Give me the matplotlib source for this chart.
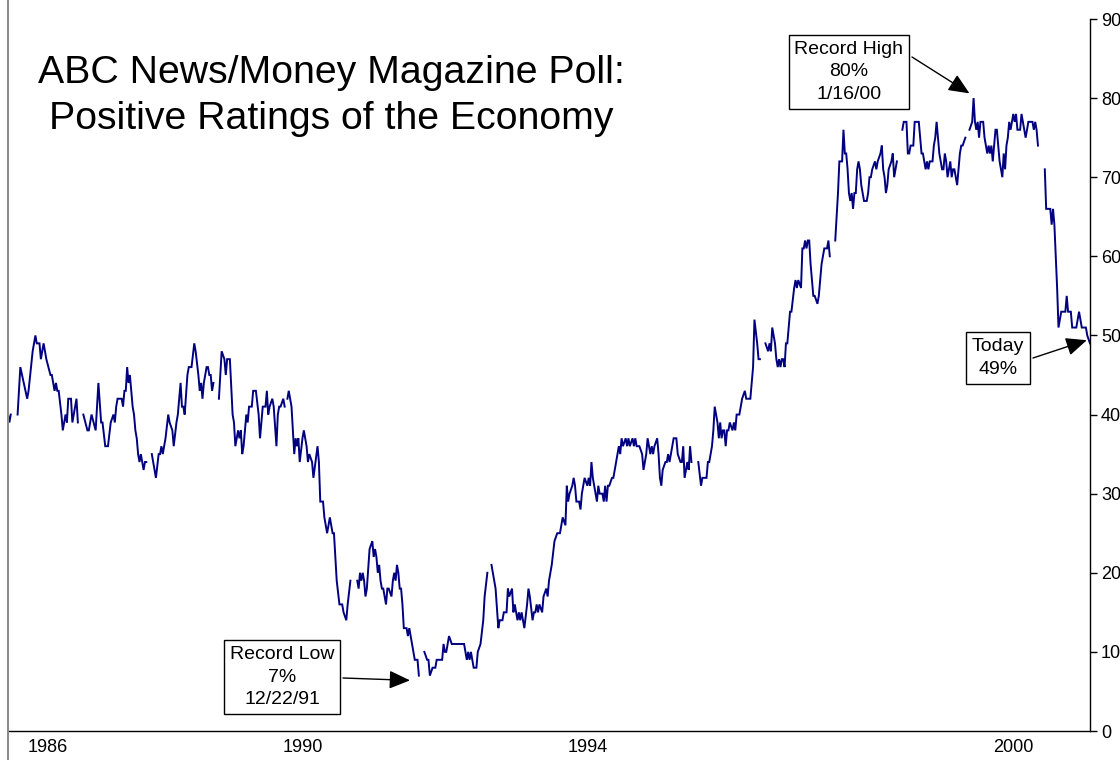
import matplotlib
matplotlib.use("Agg")
import matplotlib.pyplot as plt
import numpy as np

# ---- data: (poll number, positive rating %) ; None = no poll reported ----
polls_1985_87 = [(0,40),(1,39),(2,40),(4,None),(7,40),(9,46),(14,42),(15,43),(18,48),(19,49),(20,50),(21,49),(23,49),(24,47),(25,48),(26,49),(28,47),(31,45),(32,45),(34,43),(35,44),(36,43),(37,43),(39,40),(40,38),(42,40),(43,39),(44,42),(46,42),(47,39),(50,42),(51,39),(53,None),(55,40),(58,38),(59,38),(60,39),(61,40),(64,38),(65,41),(66,44),(68,39),(69,39),(71,36),(73,36),(75,39),(77,40),(78,39),(79,41),(80,42),(83,42),(84,41),(85,43),(86,43),(87,46),(88,44),(89,45),(91,41),(92,40),(93,38),(94,37),(95,35),(96,34),(97,35),(99,33),(100,34),(101,34),(103,None)]
polls_1988_89 = [(105,35),(108,32),(110,35),(111,35),(112,36),(113,35),(115,37),(117,40),(118,39),(120,38),(121,36),(123,39),(124,40),(126,44),(127,41),(128,41),(129,40),(131,45),(132,46),(134,46),(136,49),(137,48),(139,45),(140,43),(141,44),(142,42),(143,44),(145,46),(146,46),(147,45),(148,45),(149,43),(150,44),(152,None),(154,42),(156,48),(158,47),(159,45),(160,47),(162,47),(164,40),(165,39),(166,36),(167,37),(168,38),(169,37),(170,38),(171,35),(172,36),(174,40),(175,39),(176,41),(178,41),(179,43),(181,43),(183,40),(184,37),(186,41),(188,41),(189,43),(190,40),(191,41),(193,42),(194,41),(196,36),(197,40),(198,41),(199,41),(201,42),(202,41),(203,None)]
polls_1990_91 = [(204,42),(205,43),(207,41),(209,35),(210,37),(211,36),(212,37),(213,34),(215,37),(216,38),(218,36),(219,34),(220,35),(222,34),(223,32),(226,36),(227,34),(228,29),(230,29),(231,27),(233,25),(234,26),(235,27),(237,25),(238,25),(239,22),(240,19),(242,16),(244,16),(245,15),(247,14),(248,16),(250,19),(252,None),(255,19),(256,18),(257,20),(258,19),(259,20),(260,19),(261,17),(262,18),(264,23),(266,24),(267,22),(268,23),(269,22),(270,20),(271,21),(272,19),(273,18),(274,18),(275,17),(276,16),(277,18),(278,18),(280,17),(281,19),(282,20),(283,19),(284,21),(285,20),(286,18),(287,18),(288,16),(289,13),(291,13),(292,12),(293,13),(295,11),(296,10),(297,9),(299,9),(300,7),(302,None)]
polls_1992_95 = [(304,10),(306,9),(307,9),(308,7),(310,8),(311,8),(312,8),(313,9),(315,9),(317,9),(318,11),(319,10),(320,10),(322,12),(324,11),(326,11),(329,11),(330,11),(331,11),(333,11),(335,9),(336,10),(337,9),(338,10),(339,9),(340,8),(342,8),(343,10),(345,11),(347,14),(348,17),(350,20),(352,None),(353,21),(356,18),(358,13),(359,14),(361,14),(362,15),(364,15),(365,18),(366,17),(368,18),(369,15),(370,16),(372,14),(373,15),(374,14),(375,15),(376,14),(377,13),(379,16),(380,18),(381,17),(383,14),(384,15),(385,15),(386,16),(387,15),(388,16),(390,15),(391,17),(393,18),(394,17),(395,19),(397,21),(399,24),(401,25),(403,25),(404,26),(405,27),(407,26),(408,31),(409,29),(410,30),(412,31),(413,32),(414,31),(415,29),(417,29),(418,28),(419,30),(420,31),(421,32),(423,31),(424,32),(425,31),(426,34),(427,32),(429,30),(430,29),(431,31),(432,30),(434,30),(435,29),(436,31),(437,29),(438,31),(439,31),(441,32),(442,32),(443,33),(445,35),(446,36),(447,35),(448,37),(449,36),(451,37),(452,36),(453,37),(454,36),(456,37),(457,36),(458,37),(459,36),(460,36),(461,36),(463,35),(464,33),(465,34),(466,35),(467,37),(469,35),(470,36),(471,35),(472,36),(474,37),(475,35),(476,32),(477,31),(478,33),(480,34),(481,34),(482,35),(483,34),(485,36),(486,37),(488,37),(489,35),(491,34),(492,34),(493,36),(494,32),(496,34),(497,33),(498,36),(499,34),(501,None)]
polls_1996_98 = [(504,34),(506,31),(507,32),(510,32),(511,34),(512,34),(514,36),(515,38),(516,41),(518,39),(519,37),(520,39),(521,37),(522,38),(523,38),(524,36),(525,38),(526,38),(527,39),(529,38),(530,39),(531,38),(532,40),(534,40),(535,41),(536,42),(538,43),(539,42),(542,42),(543,44),(544,46),(545,52),(547,49),(548,47),(549,47),(551,None),(553,49),(555,48),(556,49),(557,48),(558,51),(560,49),(561,47),(562,46),(563,47),(564,46),(565,47),(566,47),(567,46),(568,49),(569,49),(571,53),(572,53),(574,56),(575,57),(576,56),(577,57),(579,56),(580,61),(581,61),(582,62),(583,61),(584,62),(585,62),(586,59),(588,55),(589,55),(591,54),(592,55),(593,57),(594,59),(595,60),(596,61),(598,61),(599,62),(600,60),(602,None),(604,62),(606,68),(607,72),(609,72),(610,76),(611,73),(612,73),(613,71),(614,68),(615,67),(616,68),(617,66),(618,68),(619,68),(620,71),(621,72),(622,71),(623,69),(625,67),(627,67),(628,68),(629,70),(630,70),(631,71),(633,72),(634,71),(635,72),(637,73),(638,74),(639,71),(640,70),(641,68),(642,69),(643,71),(645,72),(646,73),(647,70),(648,71),(649,72),(651,None)]
polls_1999_01 = [(653,76),(654,77),(656,77),(657,73),(658,73),(659,74),(661,74),(662,77),(664,77),(665,77),(666,75),(667,73),(668,73),(669,72),(670,71),(671,72),(672,71),(673,72),(675,72),(676,74),(677,75),(678,77),(679,75),(680,73),(682,71),(683,71),(684,73),(685,72),(686,70),(687,71),(688,72),(689,70),(690,71),(691,71),(693,69),(694,71),(695,73),(696,74),(697,74),(699,75),(701,None),(702,76),(704,77),(705,80),(706,77),(707,76),(708,77),(709,75),(710,77),(711,77),(712,77),(713,75),(715,73),(716,74),(717,73),(718,74),(719,72),(721,76),(722,76),(723,74),(724,72),(726,70),(727,73),(728,71),(729,74),(730,75),(731,77),(732,76),(734,78),(735,77),(736,78),(737,76),(739,76),(740,78),(741,77),(742,76),(743,75),(745,77),(747,77),(748,77),(749,76),(750,77),(751,76),(752,74),(754,None),(757,71),(758,66),(760,66),(761,66),(762,64),(763,66),(764,64),(765,60),(766,56),(767,51),(769,53),(770,53),(772,53),(773,55),(774,53),(776,53),(777,51),(779,51),(780,51),(782,53),(783,52),(784,51),(787,51),(788,50),(790,49)]

year_labels = ["1986", "1990", "1994", "2000"]
year_label_polls = [29, 215, 423, 734]
y_ticks = list(range(0, 91, 10))

title = "ABC News/Money Magazine Poll:\nPositive Ratings of the Economy"
high_note = "Record High\n80%\n1/16/00"
low_note = "Record Low\n7%\n12/22/91"
today_note = "Today\n49%"

# ---- build ----
series = polls_1985_87 + polls_1988_89 + polls_1990_91 + polls_1992_95 + polls_1996_98 + polls_1999_01
x = np.array([p for p, _ in series], dtype=float)
y = np.array([np.nan if v is None else v for _, v in series], dtype=float)

plt.rcParams['font.family'] = ['Liberation Sans', 'DejaVu Sans']

W, H = 1120, 760
fig = plt.figure(figsize=(W / 100, H / 100), dpi=100)
fig.patch.set_facecolor('white')
ax = fig.add_axes([8 / W, 29 / H, 1082 / W, 712 / H])
ax.plot(x, y, color='#000080', lw=1.4, solid_joinstyle='miter')
ax.set_xlim(0, 790)
ax.set_ylim(0, 90)

for s in ['top', 'left']:
    ax.spines[s].set_visible(False)
for s in ['right', 'bottom']:
    ax.spines[s].set_color('black')
    ax.spines[s].set_linewidth(1.0)

ax.yaxis.tick_right()
ax.set_yticks(y_ticks)
ax.set_yticklabels([str(t) for t in y_ticks])
ax.tick_params(axis='y', direction='out', length=5, width=1, labelsize=13, pad=3)
ax.set_xticks(year_label_polls)
ax.set_xticklabels(year_labels)
ax.tick_params(axis='x', direction='out', length=0, labelsize=13, pad=6)

# left chart border
fig.add_artist(plt.Line2D([8 / W, 8 / W], [0, 1], color='#8c8c8c', lw=1.5))

fig.text(331 / W, 1 - 96 / H, title, ha='center', va='center', fontsize=28.3, linespacing=1.36)

box = dict(boxstyle='square,pad=0.3', fc='white', ec='black', lw=1)
fig.text(849 / W, 1 - 72 / H, high_note, ha='center', va='center', fontsize=14, bbox=box, linespacing=1.42)
fig.text(282 / W, 1 - 677 / H, low_note, ha='center', va='center', fontsize=14, bbox=box, linespacing=1.42)
fig.text(998 / W, 1 - 358 / H, today_note, ha='center', va='center', fontsize=14, bbox=box, linespacing=1.42)

arrow = dict(arrowstyle='-|>,head_length=0.8,head_width=0.35', color='black', lw=1,
             mutation_scale=16, shrinkA=0, shrinkB=0)
ax.annotate('', xy=(702, 80.6), xycoords='data', xytext=(912, H - 57), textcoords='figure pixels', arrowprops=arrow)
ax.annotate('', xy=(293.5, 6.4), xycoords='data', xytext=(343, H - 678), textcoords='figure pixels', arrowprops=arrow)
ax.annotate('', xy=(787.7, 49.4), xycoords='data', xytext=(1033, H - 358), textcoords='figure pixels', arrowprops=arrow)

fig.savefig('out.png', dpi=100)
